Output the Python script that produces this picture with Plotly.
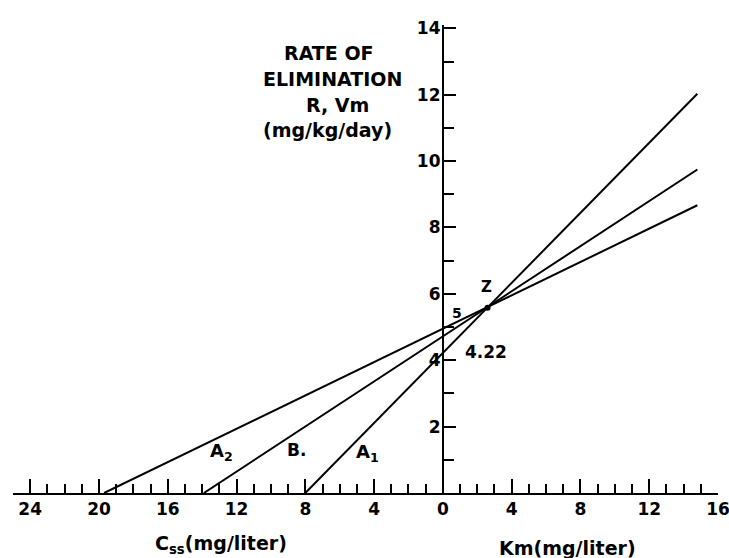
import plotly.graph_objects as go

# Data (direct linear plot)
line_names = ["A\u2081", "B.", "A\u2082"]
css_values = [8.0, 13.9, 19.7]       # C_ss intercepts (mg/liter), plotted at -C_ss
rate_values = [4.22, 4.72, 4.95]     # R intercepts on the rate axis (mg/kg/day)
km_end = 14.8                        # lines are drawn out to this Km value

x_major = [-24, -20, -16, -12, -8, -4, 0, 4, 8, 12, 16]
x_labels = ["24", "20", "16", "12", "8", "4", "0", "4", "8", "12", "16"]
y_major = [2, 4, 6, 8, 10, 12, 14]
y_labels = ["2", "4", "6", "8", "10", "12", "14"]

Z_point = (2.6, 5.58)

FONT = "DejaVu Sans"
x_min, x_max = -25, 16
y_min, y_max = 0, 14.1

fig = go.Figure()
for name, c, r in zip(line_names, css_values, rate_values):
    slope = r / c
    xs = [-c, km_end]
    ys = [0, r + slope * km_end]
    fig.add_trace(go.Scatter(x=xs, y=ys, mode="lines", name=name,
                             line=dict(color="black", width=2),
                             showlegend=False, hoverinfo="skip"))

fig.add_trace(go.Scatter(x=[Z_point[0]], y=[Z_point[1]], mode="markers",
                         marker=dict(color="black", size=6), showlegend=False,
                         hoverinfo="skip"))

ann = []
def txt(x, y, s, size=15, yref="y"):
    ann.append(dict(x=x, y=y, xref="x", yref=yref, text=s, showarrow=False,
                    xanchor="center", yanchor="middle",
                    font=dict(family=FONT, size=size, color="black", weight="bold")))

# line labels
txt(-12.85, 1.24, "A<sub>2</sub>", 18)
txt(-8.5, 1.3, "B.", 17)
txt(-4.36, 1.2, "A<sub>1</sub>", 18)
# intersection annotations
txt(2.56, 6.2, "Z", 15)
txt(0.81, 5.43, "5", 14)
txt(2.5, 4.25, "4.22", 17)
# rate axis title
txt(-6.6, (493 - 53) / 33.17, "RATE OF", 19)
txt(-6.4, (493 - 79) / 33.17, "ELIMINATION", 19)
txt(-6.1, (493 - 105) / 33.17, "R, Vm", 19)
txt(-6.7, (493 - 130) / 33.17, "(mg/kg/day)", 19)
# x axis titles (below the plot area, paper coordinates)
txt(-12.9, -0.111, "C<sub>ss</sub>(mg/liter)", 19, yref="paper")
txt(7.25, -0.118, "Km(mg/liter)", 19, yref="paper")

fig.update_layout(
    width=729, height=558,
    margin=dict(l=13, r=11, t=25, b=65, autoexpand=False),
    plot_bgcolor="white", paper_bgcolor="white",
    annotations=ann,
    xaxis=dict(range=[x_min, x_max], showgrid=False, zeroline=False,
               showline=True, linecolor="black", linewidth=2,
               automargin=False,
               tickmode="array", tickvals=x_major, ticktext=x_labels,
               ticks="inside", ticklen=14, tickwidth=2, tickcolor="black",
               ticklabeloverflow="allow",
               tickfont=dict(family=FONT, size=17, color="black", weight="bold"),
               minor=dict(dtick=1, tick0=0, ticks="inside", ticklen=9,
                          tickwidth=2, tickcolor="black", showgrid=False),
               fixedrange=True),
    yaxis=dict(range=[y_min, y_max], showgrid=False, zeroline=False,
               showline=True, linecolor="black", linewidth=2,
               automargin=False,
               anchor="free", position=(0 - x_min) / (x_max - x_min),
               tickmode="array", tickvals=y_major, ticktext=y_labels,
               ticks="inside", ticklen=12, tickwidth=2, tickcolor="black",
               ticklabelstandoff=-2,
               tickfont=dict(family=FONT, size=17, color="black", weight="bold"),
               minor=dict(dtick=1, tick0=0, ticks="inside", ticklen=10,
                          tickwidth=2, tickcolor="black", showgrid=False),
               fixedrange=True),
)

# remove the page's default body margin so the 729x558 figure fills the window
fig.write_html("out.html", config={"displayModeBar": False},
               post_script="document.body.style.margin='0';document.body.style.overflow='hidden';")
